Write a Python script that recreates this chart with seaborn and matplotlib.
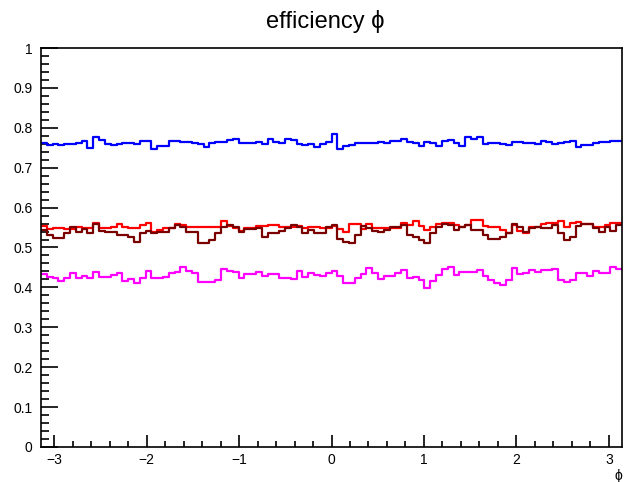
import numpy as np
import pandas as pd
import seaborn as sns
import matplotlib.pyplot as plt
from matplotlib.ticker import MultipleLocator, FormatStrFormatter

# Efficiency per phi bin (100 bins from -pi to pi) for four selections
eff_blue = [
    0.763, 0.757, 0.759, 0.757, 0.759, 0.760, 0.761, 0.768, 0.749, 0.776,
    0.770, 0.759, 0.757, 0.759, 0.761, 0.763, 0.760, 0.768, 0.766, 0.746,
    0.754, 0.755, 0.768, 0.768, 0.765, 0.764, 0.761, 0.760, 0.752, 0.761,
    0.765, 0.765, 0.769, 0.773, 0.763, 0.761, 0.761, 0.765, 0.759, 0.771,
    0.765, 0.763, 0.771, 0.769, 0.759, 0.757, 0.759, 0.751, 0.759, 0.765,
    0.784, 0.746, 0.754, 0.757, 0.761, 0.761, 0.763, 0.761, 0.765, 0.761,
    0.768, 0.767, 0.771, 0.765, 0.761, 0.754, 0.765, 0.763, 0.754, 0.768,
    0.769, 0.761, 0.754, 0.776, 0.773, 0.778, 0.759, 0.761, 0.763, 0.759,
    0.757, 0.765, 0.764, 0.761, 0.763, 0.759, 0.768, 0.765, 0.759, 0.763,
    0.765, 0.768, 0.752, 0.757, 0.757, 0.763, 0.765, 0.765, 0.766, 0.766,
]
eff_red = [
    0.554, 0.546, 0.548, 0.548, 0.546, 0.546, 0.551, 0.548, 0.548, 0.561,
    0.548, 0.548, 0.551, 0.559, 0.552, 0.548, 0.548, 0.556, 0.562, 0.540,
    0.544, 0.548, 0.548, 0.559, 0.556, 0.552, 0.552, 0.551, 0.551, 0.552,
    0.552, 0.567, 0.554, 0.548, 0.542, 0.548, 0.548, 0.554, 0.554, 0.556,
    0.556, 0.552, 0.552, 0.552, 0.554, 0.548, 0.551, 0.551, 0.548, 0.548,
    0.554, 0.546, 0.540, 0.559, 0.559, 0.546, 0.559, 0.548, 0.548, 0.548,
    0.548, 0.548, 0.561, 0.556, 0.567, 0.554, 0.544, 0.552, 0.559, 0.562,
    0.562, 0.556, 0.551, 0.556, 0.569, 0.570, 0.554, 0.551, 0.551, 0.544,
    0.536, 0.556, 0.542, 0.536, 0.552, 0.552, 0.559, 0.562, 0.562, 0.567,
    0.552, 0.561, 0.565, 0.559, 0.559, 0.551, 0.552, 0.556, 0.562, 0.562,
]
eff_darkred = [
    0.544, 0.531, 0.523, 0.523, 0.536, 0.551, 0.540, 0.546, 0.536, 0.559,
    0.542, 0.540, 0.540, 0.531, 0.531, 0.527, 0.515, 0.536, 0.542, 0.536,
    0.540, 0.540, 0.548, 0.556, 0.552, 0.540, 0.540, 0.511, 0.511, 0.519,
    0.536, 0.552, 0.556, 0.551, 0.540, 0.546, 0.546, 0.548, 0.527, 0.536,
    0.536, 0.542, 0.548, 0.556, 0.551, 0.536, 0.544, 0.537, 0.536, 0.551,
    0.556, 0.521, 0.515, 0.511, 0.531, 0.554, 0.548, 0.542, 0.540, 0.544,
    0.551, 0.551, 0.556, 0.531, 0.527, 0.519, 0.511, 0.536, 0.551, 0.559,
    0.556, 0.544, 0.552, 0.556, 0.544, 0.544, 0.531, 0.521, 0.521, 0.527,
    0.536, 0.559, 0.552, 0.540, 0.548, 0.552, 0.548, 0.548, 0.556, 0.536,
    0.519, 0.527, 0.554, 0.559, 0.559, 0.548, 0.540, 0.551, 0.542, 0.556,
]
eff_magenta = [
    0.433, 0.427, 0.423, 0.416, 0.424, 0.435, 0.424, 0.429, 0.424, 0.438,
    0.427, 0.427, 0.431, 0.435, 0.416, 0.421, 0.410, 0.424, 0.441, 0.424,
    0.424, 0.427, 0.435, 0.439, 0.450, 0.441, 0.435, 0.414, 0.414, 0.413,
    0.419, 0.446, 0.441, 0.439, 0.423, 0.433, 0.433, 0.439, 0.429, 0.433,
    0.433, 0.423, 0.423, 0.421, 0.441, 0.427, 0.435, 0.431, 0.429, 0.435,
    0.441, 0.429, 0.410, 0.410, 0.423, 0.433, 0.448, 0.435, 0.421, 0.429,
    0.429, 0.435, 0.444, 0.424, 0.427, 0.419, 0.399, 0.416, 0.431, 0.446,
    0.450, 0.431, 0.439, 0.439, 0.439, 0.444, 0.429, 0.419, 0.410, 0.406,
    0.419, 0.448, 0.433, 0.435, 0.444, 0.439, 0.444, 0.444, 0.446, 0.419,
    0.414, 0.419, 0.435, 0.435, 0.429, 0.441, 0.435, 0.435, 0.450, 0.446,
]

series = {
    "blue": (eff_blue, "#0000ff"),
    "red": (eff_red, "#ff0000"),
    "darkred": (eff_darkred, "#7a0000"),
    "magenta": (eff_magenta, "#ff00ff"),
}

n_bins = len(eff_blue)
edges = np.linspace(-np.pi, np.pi, n_bins + 1)
centers = 0.5 * (edges[:-1] + edges[1:])

sns.set_style("ticks")
plt.rcParams["font.family"] = ["Liberation Sans", "DejaVu Sans"]
plt.rcParams["text.color"] = "black"
plt.rcParams["axes.labelcolor"] = "black"

fig = plt.figure(figsize=(6.25, 4.82), dpi=100)
ax = fig.add_axes([41 / 625, 1 - 447 / 482, 581 / 625, 399 / 482])

for name, (vals, col) in series.items():
    df = pd.DataFrame({"phi": centers, "eff": vals})
    sns.histplot(data=df, x="phi", weights="eff", bins=n_bins,
                 binrange=(-np.pi, np.pi), element="step", fill=False,
                 color=col, linewidth=1.6, ax=ax)

ax.set_xlim(-np.pi, np.pi)
ax.set_ylim(0, 1)

ax.xaxis.set_major_locator(MultipleLocator(1))
ax.xaxis.set_minor_locator(MultipleLocator(0.2))
ax.yaxis.set_major_locator(MultipleLocator(0.1))
ax.yaxis.set_minor_locator(MultipleLocator(0.02))
ax.yaxis.set_major_formatter(FormatStrFormatter("%g"))

ax.tick_params(axis="both", which="both", direction="in", top=False,
               right=False, colors="black", labelcolor="black",
               labelsize=10, width=1.2)
ax.tick_params(axis="x", which="major", length=9, pad=4)
ax.tick_params(axis="x", which="minor", length=4.5)
ax.tick_params(axis="y", which="major", length=12, pad=6)
ax.tick_params(axis="y", which="minor", length=6)

for sp in ax.spines.values():
    sp.set_visible(True)
    sp.set_linewidth(1.2)
    sp.set_color("black")

ax.set_ylabel("")
ax.set_xlabel("ϕ", loc="right", fontsize=10, labelpad=2, color="black")
fig.text(0.52, 0.955, "efficiency ϕ", ha="center", va="center",
         fontsize=17, color="black")

fig.savefig("out.png", dpi=100, facecolor="white")
